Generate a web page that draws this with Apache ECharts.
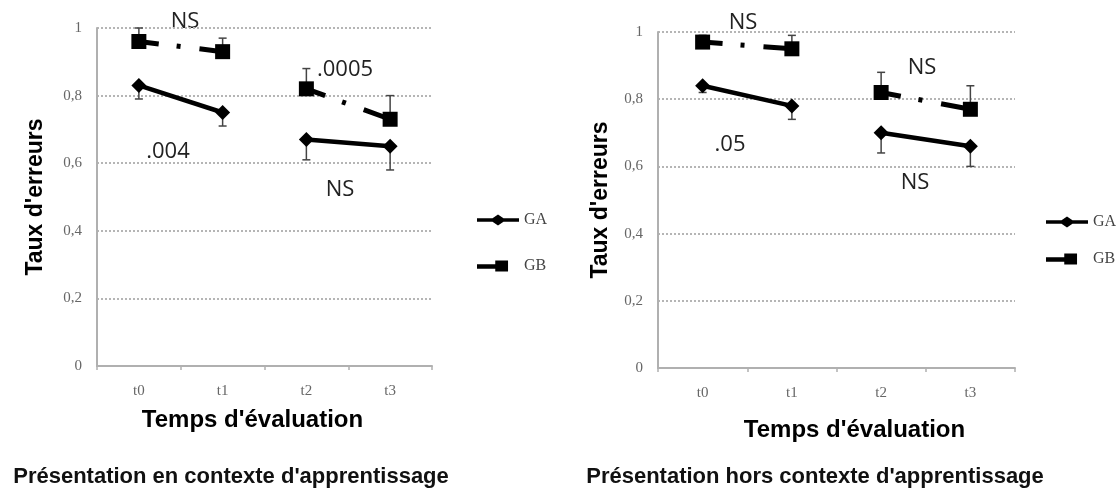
<!DOCTYPE html>
<html>
<head>
<meta charset="utf-8">
<script src="https://cdn.jsdelivr.net/npm/echarts@6/dist/echarts.min.js"></script>
<style>
  html, body { margin: 0; padding: 0; background: #fff; }
  #main { width: 1120px; height: 493px; }
</style>
</head>
<body>
<div id="main"></div>
<script>
// categories et valeurs
const categories = ["t0", "t1", "t2", "t3"];
const yTicks = [0, 0.2, 0.4, 0.6, 0.8, 1];

// Présentation en contexte d'apprentissage
const gaContexte = [0.83, 0.75, 0.67, 0.65];
const gbContexte = [0.96, 0.93, 0.82, 0.73];
const gaContexteLow = [0.79, 0.71, 0.61, 0.58];
const gbContexteHigh = [1.0, 0.97, 0.88, 0.8];

// Présentation hors contexte d'apprentissage
const gaHors = [0.84, 0.78, 0.7, 0.66];
const gbHors = [0.97, 0.95, 0.82, 0.77];
const gaHorsLow = [0.82, 0.74, 0.64, 0.6];
const gbHorsHigh = [0.99, 0.99, 0.88, 0.84];

const gaIcon = "path://M0,5H17L23,1L29,5H46V9H29L23,13L17,9H0Z";
const gbIcon = "path://M0,5H20V1H34V13H20V10H0ZM46,7H46.01V7.01H46Z";

const chart = echarts.init(document.getElementById("main"));

// garde seulement les points entre from et to
function seg(values, from, to) {
  return values.map((v, i) => (i >= from && i <= to ? v : "-"));
}

function xAxis(idx, nameGap, pad) {
  return {
    gridIndex: idx,
    type: "category",
    data: categories,
    name: "Temps d'évaluation",
    nameLocation: "middle",
    nameGap: nameGap,
    nameTextStyle: {
      fontFamily: "Liberation Sans",
      fontWeight: "bold",
      fontSize: 24,
      color: "#000",
      padding: pad
    },
    axisLine: { lineStyle: { color: "#b0b0b0", width: 2 } },
    axisTick: { show: true, length: 4, lineStyle: { color: "#b0b0b0", width: 1.5 } },
    axisLabel: { fontFamily: "Liberation Serif", fontSize: 15, color: "#666", margin: 18 }
  };
}

function yAxis(idx, nameGap) {
  return {
    gridIndex: idx,
    type: "value",
    min: 0,
    max: 1,
    interval: 0.2,
    name: "Taux d'erreurs",
    nameLocation: "middle",
    nameGap: nameGap,
    nameTextStyle: {
      fontFamily: "Liberation Sans",
      fontWeight: "bold",
      fontSize: 23,
      color: "#000"
    },
    axisLine: { show: true, lineStyle: { color: "#b0b0b0", width: 2 } },
    axisTick: { show: false },
    axisLabel: {
      fontFamily: "Liberation Serif",
      fontSize: 15,
      color: "#666",
      margin: 15,
      formatter: v => (yTicks.includes(+v.toFixed(1)) ? String(+v.toFixed(1)).replace(".", ",") : "")
    },
    splitLine: { lineStyle: { color: "#b5b5b5", type: "dotted", width: 2 } }
  };
}

function gaLine(idx, values, from, to) {
  return {
    name: "GA",
    type: "line",
    xAxisIndex: idx,
    yAxisIndex: idx,
    data: seg(values, from, to),
    symbol: "diamond",
    symbolSize: [15, 15],
    itemStyle: { color: "#000" },
    lineStyle: { color: "#000", width: 4.5 },
    z: 3
  };
}

function gbLine(idx, values, from, to) {
  return {
    name: "GB",
    type: "line",
    xAxisIndex: idx,
    yAxisIndex: idx,
    data: seg(values, from, to),
    symbol: "rect",
    symbolSize: 15,
    itemStyle: { color: "#000" },
    lineStyle: { color: "#000", width: 5, type: [20, 18, 4, 19, 40, 20] },
    z: 3
  };
}

function errorBars(idx, means, bounds) {
  return {
    type: "custom",
    xAxisIndex: idx,
    yAxisIndex: idx,
    silent: true,
    z: 2,
    data: means.map((m, i) => [i, m, bounds[i]]),
    encode: { x: 0, y: [1, 2] },
    renderItem(params, api) {
      const p0 = api.coord([api.value(0), api.value(1)]);
      const p1 = api.coord([api.value(0), api.value(2)]);
      const st = { stroke: "#444", lineWidth: 1.5 };
      return {
        type: "group",
        children: [
          { type: "line", shape: { x1: p0[0], y1: p0[1], x2: p1[0], y2: p1[1] }, style: st },
          { type: "line", shape: { x1: p1[0] - 4, y1: p1[1], x2: p1[0] + 4, y2: p1[1] }, style: st }
        ]
      };
    }
  };
}

function legend(left, top, gap) {
  return {
    orient: "vertical",
    left: left,
    top: top,
    itemWidth: 42,
    itemHeight: 14,
    itemGap: gap,
    data: [
      { name: "GA", icon: gaIcon },
      { name: "GB", icon: gbIcon }
    ],
    itemStyle: { color: "#000", borderWidth: 0 },
    textStyle: { fontFamily: "Liberation Serif", fontSize: 16, color: "#444", padding: [2, 0, 0, 0] }
  };
}

function note(text, x, y) {
  return {
    type: "text",
    x: x,
    y: y,
    style: {
      text: text,
      fontFamily: "Open Sans",
      fontSize: 22,
      fill: "#222",
      align: "center",
      verticalAlign: "middle"
    }
  };
}

function caption(text, x) {
  return {
    type: "text",
    x: x,
    y: 477,
    style: {
      text: text,
      fontFamily: "Liberation Sans",
      fontWeight: "bold",
      fontSize: 22,
      fill: "#111",
      align: "center",
      verticalAlign: "middle"
    }
  };
}

let option = {
  animation: false,
  backgroundColor: "#fff",
  grid: [
    { left: 97, top: 28, width: 335, height: 338 },
    { left: 658, top: 32, width: 357, height: 336 }
  ],
  xAxis: [xAxis(0, 42, [0, 24, 0, 0]), xAxis(1, 50, [0, 0, 0, 36])],
  yAxis: [yAxis(0, 50), yAxis(1, 46)],
  legend: [legend(472, 207, 30), legend(1041, 209, 21)],
  series: [
    errorBars(0, gaContexte, gaContexteLow),
    errorBars(0, gbContexte, gbContexteHigh),
    gaLine(0, gaContexte, 0, 1),
    gaLine(0, gaContexte, 2, 3),
    gbLine(0, gbContexte, 0, 1),
    gbLine(0, gbContexte, 2, 3),
    errorBars(1, gaHors, gaHorsLow),
    errorBars(1, gbHors, gbHorsHigh),
    gaLine(1, gaHors, 0, 1),
    gaLine(1, gaHors, 2, 3),
    gbLine(1, gbHors, 0, 1),
    gbLine(1, gbHors, 2, 3)
  ],
  graphic: [
    note("NS", 185, 22),
    note(".0005", 345, 70),
    note(".004", 168, 152),
    note("NS", 340, 190),
    note("NS", 743, 23),
    note("NS", 922, 68),
    note(".05", 730, 145),
    note("NS", 915, 183),
    caption("Présentation en contexte d'apprentissage", 231),
    caption("Présentation hors contexte d'apprentissage", 815)
  ]
};

chart.setOption(option);
window.addEventListener("resize", chart.resize);
</script>
</body>
</html>
